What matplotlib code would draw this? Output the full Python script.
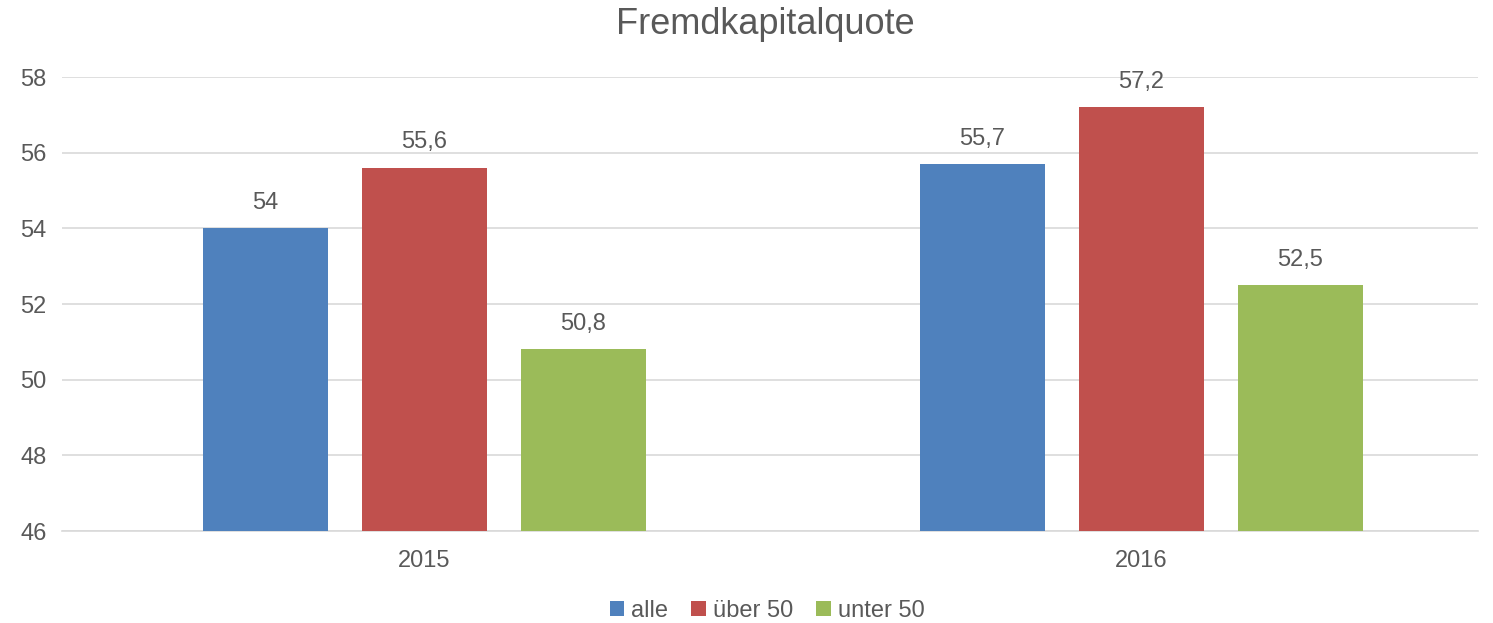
import matplotlib
matplotlib.use("Agg")
import matplotlib.pyplot as plt
import numpy as np

categories = ["2015", "2016"]
series_names = ["alle", "über 50", "unter 50"]
alle = [54.0, 55.7]
ueber50 = [55.6, 57.2]
unter50 = [50.8, 52.5]
labels_alle = ["54", "55,7"]
labels_ueber = ["55,6", "57,2"]
labels_unter = ["50,8", "52,5"]
yticks = [46, 48, 50, 52, 54, 56, 58]

colors = ["#4f81bd", "#c0504d", "#9bbb59"]
txt = "#595959"
plt.rcParams['font.family'] = ['Liberation Sans', 'DejaVu Sans']

fig = plt.figure(figsize=(14.93, 6.23), dpi=100)
ax = fig.add_axes([62/1493, 92/623, (1478-62)/1493, (531-77)/623])

x = np.arange(len(categories))
w = 0.1743
step = 0.2218
data = [alle, ueber50, unter50]
labs = [labels_alle, labels_ueber, labels_unter]
for i, (vals, lab) in enumerate(zip(data, labs)):
    pos = x + (i - 1) * step
    ax.bar(pos, np.array(vals) - 46, bottom=46, width=w, color=colors[i],
           label=series_names[i], zorder=3)
    for p, v, l in zip(pos, vals, lab):
        ax.text(p, v + 0.38, l, ha='center', va='bottom', fontsize=17, color=txt)

ax.set_ylim(46, 58)
ax.set_xlim(-0.5056, 1.4693)
ax.set_yticks(yticks)
ax.set_yticklabels([str(t) for t in yticks])
ax.set_xticks(x)
ax.set_xticklabels(categories)
ax.tick_params(axis='both', length=0, labelsize=17, colors=txt)
ax.tick_params(axis='y', pad=11)
ax.tick_params(axis='x', pad=14)
ax.grid(axis='y', color='#d9d9d9', linewidth=1.2, zorder=0)
for s in ['top', 'right', 'left']:
    ax.spines[s].set_visible(False)
ax.spines['bottom'].set_color('#d9d9d9')
ax.spines['bottom'].set_linewidth(1.2)

fig.text(765/1493, 1 - 24/623, "Fremdkapitalquote", ha='center', va='center', fontsize=26, color=txt)

fig.legend(loc='center', bbox_to_anchor=(767/1493, 1 - 611/623), ncol=3, frameon=False,
           fontsize=17, handlelength=0.6, handleheight=0.6, handletextpad=0.3,
           columnspacing=1.0, labelcolor=txt)

fig.savefig("out.png", dpi=100)
